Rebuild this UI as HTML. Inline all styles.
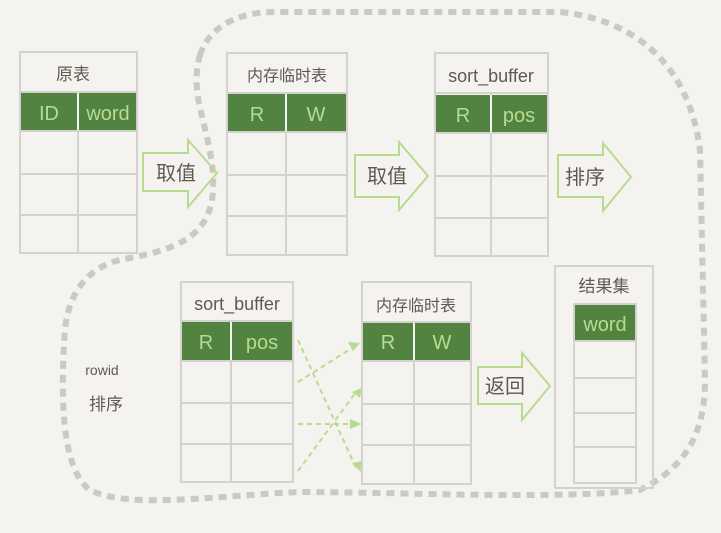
<!DOCTYPE html>
<html><head><meta charset="utf-8"><style>
body{margin:0;background:#f4f3ef;}
svg text{font-family:"Liberation Sans","Noto Sans CJK SC",sans-serif;}
</style></head><body>
<svg width="721" height="528" viewBox="0 0 721 528" xmlns="http://www.w3.org/2000/svg">
<rect width="721" height="528" fill="#f4f3ef"/>
<path d="M200,55 C210,25 240,12 275,12 L560,12 C640,20 690,70 700,150 L705,380 C705,440 680,470 640,490 C560,500 400,492 300,492 C220,495 130,510 90,490 C62,470 60,400 65,330 C70,280 100,262 130,258 C170,250 205,240 212,200 C218,160 200,120 197,90 C196,75 197,65 200,55 Z" fill="none" stroke="#cbc9c3" stroke-width="6" stroke-dasharray="8 6"/>
<g stroke="#d3d2ce" stroke-width="2" fill="none">
<rect x="20" y="52" width="117" height="201"/>
<line x1="20" y1="92" x2="137" y2="92"/><line x1="20" y1="174" x2="137" y2="174"/><line x1="20" y1="215" x2="137" y2="215"/><line x1="20" y1="131" x2="137" y2="131"/>
<line x1="78" y1="92" x2="78" y2="253"/>
<rect x="227" y="53" width="120" height="202"/>
<line x1="227" y1="93" x2="347" y2="93"/><line x1="227" y1="175" x2="347" y2="175"/><line x1="227" y1="216" x2="347" y2="216"/>
<line x1="286" y1="93" x2="286" y2="255"/>
<rect x="435" y="53" width="113" height="203"/>
<line x1="435" y1="93" x2="548" y2="93"/><line x1="435" y1="176" x2="548" y2="176"/><line x1="435" y1="218" x2="548" y2="218"/>
<line x1="491" y1="93" x2="491" y2="256"/>
<rect x="181" y="282" width="112" height="200"/>
<line x1="181" y1="321" x2="293" y2="321"/><line x1="181" y1="403" x2="293" y2="403"/><line x1="181" y1="444" x2="293" y2="444"/>
<line x1="231" y1="321" x2="231" y2="482"/>
<rect x="362" y="282" width="109" height="202"/>
<line x1="362" y1="322" x2="471" y2="322"/><line x1="362" y1="404" x2="471" y2="404"/><line x1="362" y1="445" x2="471" y2="445"/>
<line x1="414" y1="322" x2="414" y2="484"/>
<rect x="555" y="266" width="98" height="222"/>
<rect x="574" y="304" width="62" height="179"/>
<line x1="574" y1="378" x2="636" y2="378"/><line x1="574" y1="413" x2="636" y2="413"/><line x1="574" y1="447" x2="636" y2="447"/>
</g>
<g fill="#528341">
<rect x="21" y="93" width="115" height="38"/>
<rect x="228" y="94" width="118" height="38"/>
<rect x="436" y="95" width="111" height="38"/>
<rect x="182" y="322" width="110" height="39"/>
<rect x="363" y="323" width="107" height="38"/>
<rect x="575" y="305" width="60" height="36"/>
</g>
<g stroke="#f4f3ef" stroke-width="2">
<line x1="78" y1="93" x2="78" y2="131"/><line x1="286" y1="94" x2="286" y2="132"/><line x1="491" y1="95" x2="491" y2="133"/><line x1="231" y1="322" x2="231" y2="361"/><line x1="414" y1="323" x2="414" y2="361"/>
</g>
<g stroke="#d3d2ce" stroke-width="2"><line x1="21" y1="131" x2="136" y2="131"/><line x1="228" y1="132" x2="346" y2="132"/><line x1="436" y1="133" x2="547" y2="133"/><line x1="182" y1="361" x2="292" y2="361"/><line x1="363" y1="361" x2="470" y2="361"/><line x1="575" y1="341" x2="635" y2="341"/></g>
<g fill="#5f5a50" font-size="17" text-anchor="middle">
<text x="73" y="80">原表</text>
<text x="287" y="81" font-size="16">内存临时表</text>
<text x="491" y="82" font-size="18">sort_buffer</text>
<text x="237" y="310" font-size="18">sort_buffer</text>
<text x="416" y="311" font-size="16">内存临时表</text>
<text x="604" y="292">结果集</text>
<text x="102" y="375" font-size="14">rowid</text>
<text x="106" y="410" font-size="17">排序</text>
</g>
<g fill="#b8dc8f" font-size="20" text-anchor="middle">
<text x="49" y="120">ID</text><text x="108" y="120">word</text>
<text x="257" y="121">R</text><text x="316" y="121">W</text>
<text x="463" y="122">R</text><text x="519" y="122">pos</text>
<text x="206" y="349">R</text><text x="262" y="349">pos</text>
<text x="388" y="349">R</text><text x="442" y="349">W</text>
<text x="605" y="331">word</text>
</g>
<g fill="none" stroke="#b8dc8f" stroke-width="2">
<path d="M143,153 L188,153 L188,140 L217,173 L188,207 L188,191 L143,191 Z"/>
<path d="M355,155 L399,155 L399,142 L428,176 L399,210 L399,197 L355,197 Z"/>
<path d="M558,155 L603,155 L603,143 L631,177 L603,211 L603,197 L558,197 Z"/>
<path d="M478,367 L522,367 L522,353 L550,386 L522,420 L522,404 L478,404 Z"/>
</g>
<g fill="#5f5a50" font-size="20" text-anchor="middle">
<text x="176" y="180">取值</text>
<text x="387" y="183">取值</text>
<text x="585" y="184">排序</text>
<text x="505" y="393">返回</text>
</g>
<g stroke="#b8dc8f" stroke-width="2" stroke-dasharray="5 4" fill="none">
<line x1="298" y1="382" x2="355" y2="346"/>
<line x1="298" y1="424" x2="357" y2="424"/>
<line x1="298" y1="471" x2="356" y2="392"/>
<line x1="298" y1="340" x2="356" y2="468"/>
</g>
<g fill="#b8dc8f">
<polygon points="360,343 348,342 353,351"/>
<polygon points="362,424 350,419 350,429"/>
<polygon points="362,388 352,392 360,398"/>
<polygon points="361,472 352,463 362,461"/>
</g>
</svg>
</body></html>
